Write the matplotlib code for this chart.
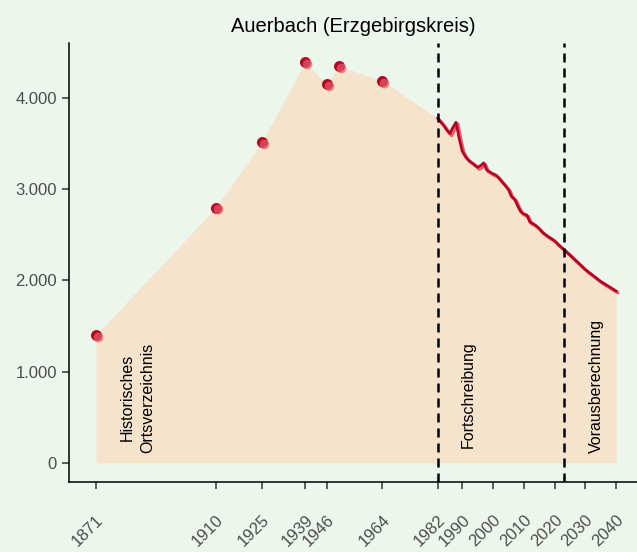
import matplotlib.pyplot as plt
import matplotlib.transforms as mtransforms

plt.rcParams['font.family'] = ['Liberation Sans', 'DejaVu Sans']

# historical census points
hist_years = [1871, 1910, 1925, 1939, 1946, 1950, 1964]
hist_pop = [1400, 2800, 3520, 4390, 4150, 4350, 4190]

# yearly series (Fortschreibung) + projection (Vorausberechnung)
line_years = [1982, 1983, 1984, 1985, 1986, 1987, 1988, 1989, 1990, 1991,
              1992, 1993, 1994, 1995, 1996, 1997, 1998, 1999, 2000, 2001,
              2002, 2003, 2004, 2005, 2006, 2007, 2008, 2009, 2010, 2011,
              2012, 2013, 2014, 2015, 2016, 2017, 2018, 2019, 2020, 2021,
              2022, 2023, 2025, 2030, 2035, 2040]
line_pop = [3780, 3740, 3700, 3650, 3610, 3680, 3735, 3560, 3420, 3360,
            3320, 3295, 3270, 3240, 3260, 3290, 3210, 3190, 3170, 3155,
            3120, 3080, 3040, 3000, 2920, 2895, 2820, 2755, 2730, 2718,
            2640, 2625, 2600, 2570, 2530, 2505, 2480, 2460, 2436, 2400,
            2370, 2342, 2280, 2120, 1990, 1885]

xticks = [1871, 1910, 1925, 1939, 1946, 1964, 1982, 1990, 2000, 2010, 2020, 2030, 2040]
yticks = [0, 1000, 2000, 3000, 4000]
ylabels = ["0", "1.000", "2.000", "3.000", "4.000"]
breaks = [1982, 2023]

bg = "#EDF6EC"
fill_c = "#F5E3CB"
red = "#B80020"
pink = "#E0606E"

fig = plt.figure(figsize=(6.37, 5.52), dpi=100, facecolor=bg)
ax = fig.add_axes([0.108, 0.127, 0.892, 0.795], facecolor=bg)

all_years = hist_years + line_years
all_pop = hist_pop + line_pop
ax.fill_between(all_years, 0, all_pop, color=fill_c, lw=0, zorder=1)

off = mtransforms.offset_copy(ax.transData, fig=fig, x=1.3, y=-1.3, units='points')
ax.plot(line_years, line_pop, color=pink, lw=2.4, transform=off, zorder=3, solid_capstyle='round')
ax.plot(line_years, line_pop, color=red, lw=1.9, zorder=4)

ax.scatter(hist_years, hist_pop, s=62, color=red, lw=0, zorder=5)
ax.scatter(hist_years, hist_pop, s=50, color=pink, lw=0, alpha=0.7, transform=off, zorder=6)

for b in breaks:
    ax.axvline(b, color="black", lw=1.8, linestyle=(0, (3.6, 2.4)), zorder=7)

ax.text(1884.5, 110, "Historisches\nOrtsverzeichnis", rotation=90, ha='center', va='bottom',
        fontsize=11.5, linespacing=1.4)
ax.text(1992, 165, "Fortschreibung", rotation=90, ha='center', va='bottom', fontsize=11.5)
ax.text(2033.5, 110, "Vorausberechnung", rotation=90, ha='center', va='bottom', fontsize=11.5)

ax.set_xlim(1862.2, 2046.8)
ax.set_ylim(-208, 4603)
ax.set_xticks(xticks)
ax.set_xticklabels([str(t) for t in xticks], rotation=45, ha='right', va='top',
                   rotation_mode='anchor')
ax.set_yticks(yticks)
ax.set_yticklabels(ylabels)
ax.tick_params(colors="#333333", labelcolor="#4D4D4D", labelsize=12, length=5, width=1.1)
ax.tick_params(axis='x', pad=17)

for s in ['top', 'right']:
    ax.spines[s].set_visible(False)
for s in ['left', 'bottom']:
    ax.spines[s].set_color("black")
    ax.spines[s].set_linewidth(1.1)

ax.set_title("Auerbach (Erzgebirgskreis)", fontsize=14.5, pad=8)

fig.savefig("out.png", dpi=100, facecolor=bg)
